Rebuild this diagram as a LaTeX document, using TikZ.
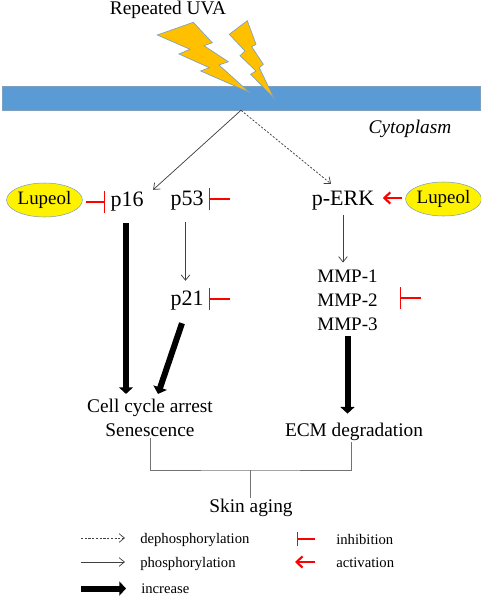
\documentclass[tikz,border=0pt]{standalone}
\usepackage{fontspec}
\setmainfont{Liberation Serif}
\usetikzlibrary{arrows.meta, positioning, calc, shapes.geometric}
\definecolor{barblue}{HTML}{5B9BD5}
\definecolor{boltorange}{HTML}{FFC000}
\definecolor{edgeblue}{HTML}{7F9FBF}

\begin{document}
\begin{tikzpicture}[
  x=0.75pt, y=-0.75pt,
  prot/.style={inner xsep=4pt, inner ysep=1pt, font=\fontsize{16.5}{20}\selectfont},
  lab/.style={inner sep=1pt, align=center, font=\fontsize{14.5}{17.5}\selectfont},
  legendtxt/.style={inner sep=0pt, anchor=base west, font=\fontsize{11}{13}\selectfont},
  lupeol/.style={ellipse, draw=edgeblue, fill=yellow, inner sep=0pt, minimum width=53pt,
                 minimum height=25.5pt, font=\fontsize{14.2}{17}\selectfont},
  bolt/.style={draw=edgeblue, line width=0.5pt, fill=boltorange},
  thin arrow/.style={-{Straight Barb[length=4pt,width=6.5pt]}, black!75, line width=0.55pt},
  dash arrow/.style={thin arrow, dash pattern=on 1.6pt off 1.2pt},
  fat arrow/.style={-{Triangle[length=5pt,width=10.5pt]}, line width=4.5pt},
  inh/.style={-{Bar[width=17pt]}, red, line width=1pt},
  act/.style={-{Straight Barb[length=4.5pt,width=8.5pt]}, red, line width=1.6pt},
  link/.style={black!55, line width=0.65pt}
]
\useasboundingbox (0,0) rectangle (480,596);

\node[lab] (uva) at (168,10) {Repeated UVA};
\node[draw=edgeblue, line width=0.4pt, fill=barblue, minimum width=358.5pt, minimum height=18pt,
      inner sep=0pt] (membrane) at (241,98) {};
\draw[bolt] (157.3,35) -- (193.3,22.3) -- (212.3,42.7) -- (204,45.7) -- (228.3,61.7) -- (219,65)
  -- (249.3,92.3) -- (200.7,71) -- (209.3,67.7) -- (179,54) -- (190,49.3) -- cycle;
\draw[bolt] (229.3,34.3) -- (247.3,20.7) -- (256,44.3) -- (251.7,46.7) -- (263.3,64.3) -- (259.3,67.7)
  -- (274,98.3) -- (250.7,74.3) -- (256,71) -- (240,55.7) -- (245,51) -- cycle;
\node[lab, font=\fontsize{14.5}{17.5}\itshape] (cyto) at (410,129) {Cytoplasm};

\node[lupeol] (lupL) at (44.5,200) {Lupeol};
\node[prot] (p16) at (127,202) {p16};
\node[prot] (p53) at (187,201) {p53};
\node[prot] (p21) at (187,301) {p21};
\node[prot] (perk) at (343,201) {p-ERK};
\node[lupeol] (lupR) at (443.5,199) {Lupeol};
\node[lab, font=\fontsize{14.3}{18}\selectfont] (mmp) at (347.5,300.5) {MMP-1\\MMP-2\\MMP-3};
\node[lab] (cell) at (150,418) {Cell cycle arrest\\Senescence};
\node[lab] (ecm) at (354,432) {ECM degradation};
\node[lab] (skin) at (251,508) {Skin aging};

\coordinate (p53stub) at ($(p53.east)+(21,-2)$);
\coordinate (p21stub) at ($(p21.east)+(21,-2)$);
\coordinate (mmpstub) at (421,298);
\coordinate (mmpbar) at (400,298);
\coordinate (junction) at (250,470);

\draw[thin arrow] (membrane.south) -- ($(p16.north east)+(4,-1)$);
\draw[dash arrow] (membrane.south) -- ($(perk.north)+(-12,-6)$);
\draw[inh] ($(lupL.east)+(3,2)$) -- (p16.west);
\draw[inh] (p53stub) -- ($(p53.east)+(0,-2)$);
\draw[inh] (p21stub) -- ($(p21.east)+(0,-2)$);
\draw[inh] (mmpstub) -- (mmpbar);
\draw[act] ($(lupR.west)+(-3,-1)$) -- ($(perk.east)+(3,-3)$);
\draw[thin arrow] ($(p53.south)+(-1.5,10)$) -- ($(p21.north)+(-1.5,-9)$);
\draw[thin arrow] ($(perk.south)+(0,3)$) -- ($(mmp.north)+(-4.5,-6)$);
\draw[fat arrow] ($(p16.south)+(-1,10)$) -- ($(cell.north)+(-24,-4)$);
\draw[fat arrow] ($(p21.south)+(-5,11)$) -- ($(cell.north)+(8,-4)$);
\draw[fat arrow] ($(mmp.south)+(0,4)$) -- ($(ecm.north)+(-6.5,-8)$);
\draw[link] (cell.south) |- (junction) -| ($(ecm.south)+(-3,0)$);
\draw[link] (junction) -- ($(skin.north)+(-1,0)$);

% legend
\coordinate (leg1a) at (81,538);
\coordinate (leg1b) at (125,538);
\coordinate (leg2a) at (81,562);
\coordinate (leg2b) at (125,562);
\coordinate (leg3a) at (81,588.5);
\coordinate (leg3b) at (126,588.5);
\coordinate (leg4a) at (315,539);
\coordinate (leg4b) at (297,539);
\coordinate (leg5a) at (315,562);
\coordinate (leg5b) at (295,562);
\node[legendtxt] (dephos) at (140,543.5) {dephosphorylation};
\node[legendtxt] (phos) at (140,567.5) {phosphorylation};
\node[legendtxt] (incr) at (141,593) {increase};
\node[legendtxt] (inhib) at (336,544) {inhibition};
\node[legendtxt] (activ) at (336,567) {activation};
\draw[dash arrow] (leg1a) -- (leg1b);
\draw[thin arrow] (leg2a) -- (leg2b);
\draw[fat arrow] (leg3a) -- (leg3b);
\draw[inh, -{Bar[width=11pt]}] (leg4a) -- (leg4b);
\draw[act] (leg5a) -- (leg5b);
\end{tikzpicture}
\end{document}
